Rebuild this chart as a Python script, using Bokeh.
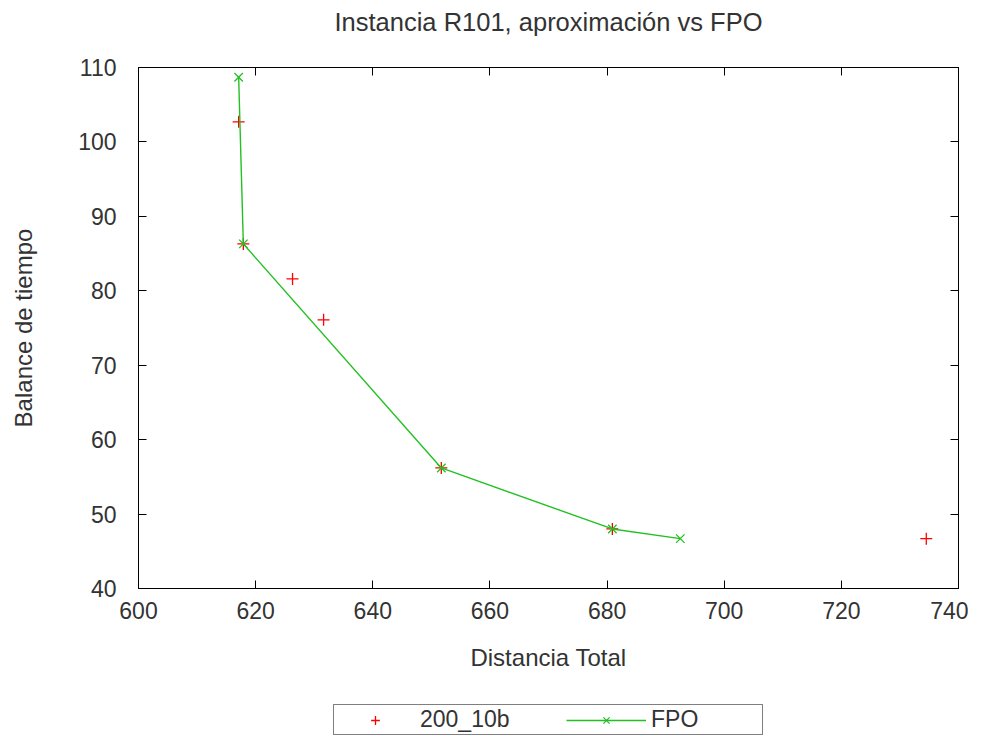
from bokeh.plotting import figure
from bokeh.layouts import column
from bokeh.models import Legend, LegendItem, LinearAxis, Range1d, FixedTicker
from bokeh.embed import file_html
from bokeh.resources import INLINE

# data
approx_x = [617.1, 617.9, 626.3, 631.6, 651.7, 680.9, 734.5]
approx_y = [102.7, 86.3, 81.6, 76.1, 56.2, 48.0, 46.7]
fpo_x = [617.1, 617.9, 651.7, 680.9, 692.5]
fpo_y = [108.7, 86.3, 56.2, 48.0, 46.7]
x_ticks = [600, 620, 640, 660, 680, 700, 720, 740]
y_ticks = [40, 50, 60, 70, 80, 90, 100, 110]
title_text = "Instancia R101, aproximación vs FPO"
series_names = ["200_10b", "FPO"]

FONT = "Liberation Sans"
TXT = "#333333"
RED = "#ff0000"
GREEN = "#22c022"

p = figure(frame_width=820, frame_height=521, output_backend="svg", toolbar_location=None,
           x_range=Range1d(600, 740), y_range=Range1d(40, 110), title=None,
           min_border_left=138, min_border_right=10, min_border_top=67,
           min_border_bottom=100)

p.xgrid.visible = False
p.ygrid.visible = False
p.outline_line_color = "black"
p.outline_line_width = 1
p.background_fill_color = "white"
p.border_fill_color = "white"

p.scatter(approx_x, approx_y, marker="cross", size=12, line_color=RED, line_width=1.3)
p.line(fpo_x, fpo_y, line_color=GREEN, line_width=1.4)
p.scatter(fpo_x, fpo_y, marker="x", size=12, line_color=GREEN, line_width=1.3)

for ax in (p.xaxis[0], p.yaxis[0]):
    ax.major_tick_in = 8
    ax.major_tick_out = 0
    ax.minor_tick_in = 0
    ax.minor_tick_out = 0
    ax.major_label_text_font = FONT
    ax.major_label_text_font_size = "23px"
    ax.major_label_text_color = TXT
    ax.axis_label_text_font = FONT
    ax.axis_label_text_font_size = "24px"
    ax.axis_label_text_font_style = "normal"
    ax.axis_label_text_color = TXT
    ax.axis_line_color = "black"
    ax.major_tick_line_color = "black"

p.xaxis[0].ticker = FixedTicker(ticks=x_ticks)
p.yaxis[0].ticker = FixedTicker(ticks=y_ticks)
p.xaxis[0].axis_label = "Distancia Total"
p.yaxis[0].axis_label = "Balance de tiempo"
p.xaxis[0].major_label_standoff = 13
p.xaxis[0].axis_label_standoff = 22
p.yaxis[0].major_label_standoff = 22
p.yaxis[0].axis_label_standoff = 38

# mirrored ticks on top (carrying the chart title) and right
top = LinearAxis(ticker=FixedTicker(ticks=x_ticks), major_label_text_font_size="0px",
                 major_tick_in=8, major_tick_out=0, minor_tick_in=0, minor_tick_out=0,
                 axis_line_color="black", axis_label=title_text,
                 axis_label_text_font=FONT, axis_label_text_font_size="25.5px",
                 axis_label_text_font_style="normal", axis_label_text_color=TXT,
                 axis_label_standoff=32, major_label_standoff=0)
right = LinearAxis(ticker=FixedTicker(ticks=y_ticks), major_label_text_font_size="0px",
                   major_tick_in=8, major_tick_out=0, minor_tick_in=0, minor_tick_out=0,
                   axis_line_color="black", major_label_standoff=0)
top.major_label_overrides = {t: "" for t in x_ticks}
right.major_label_overrides = {t: "" for t in y_ticks}
p.add_layout(top, "above")
p.add_layout(right, "right")

# legend strip below the chart: key renderers use the series data,
# which lies outside this strip's ranges, so only the legend shows
holder = figure(width=968, height=50, output_backend="svg", toolbar_location=None,
                x_axis_type=None, y_axis_type=None, title=None,
                x_range=Range1d(0, 1), y_range=Range1d(0, 1),
                min_border=0, outline_line_color=None)
holder.xgrid.visible = False
holder.ygrid.visible = False
k1 = holder.scatter(approx_x, approx_y, marker="cross", size=12, line_color=RED, line_width=1.3)
k2 = holder.line(fpo_x, fpo_y, line_color=GREEN, line_width=1.4)
k3 = holder.scatter(fpo_x, fpo_y, marker="x", size=12, line_color=GREEN, line_width=1.3)

legend = Legend(items=[LegendItem(label=series_names[0], renderers=[k1]),
                       LegendItem(label=series_names[1], renderers=[k2, k3])],
                orientation="horizontal", location="top_center",
                label_text_font=FONT, label_text_font_size="23px",
                label_text_color=TXT, label_height=22,
                border_line_color="black", border_line_width=1,
                glyph_width=80, glyph_height=22, label_width=110, spacing=36,
                padding=1, margin=16)
holder.add_layout(legend, "center")

layout = column(p, holder, spacing=0)
open("out.html", "w").write(file_html(layout, INLINE))
